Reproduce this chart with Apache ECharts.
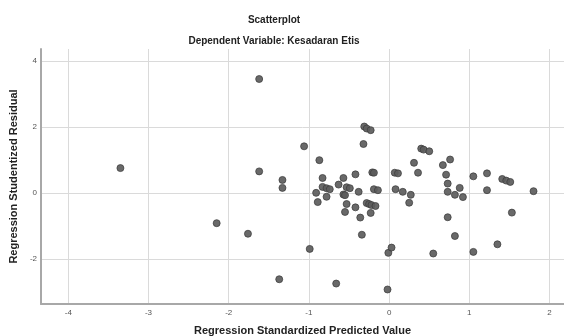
<!DOCTYPE html>
<html>
<head>
<meta charset="utf-8">
<script src="https://cdn.jsdelivr.net/npm/echarts@6/dist/echarts.min.js"></script>
<style>
  html, body { margin: 0; padding: 0; background: #fff; }
  #chart { width: 564px; height: 336px; }
</style>
</head>
<body>
<div id="chart"></div>
<script>
// Regression Standardized Predicted Value (x) / Studentized Residual (y)
const predicted = [
  -3.35, -1.62, -1.06, -0.87, -0.31, -0.28, -0.23, -0.32, -1.62, -1.33,
  -1.33, -0.83, -0.57, -0.42, -0.21, -0.19, 0.07, 0.11, -0.83, -0.78,
  -0.74, -0.63, -0.53, -0.49, -0.19, -0.14, 0.08, -0.91, -0.78, -0.57,
  -0.55, -0.38, 0.40, 0.43, 0.50, 0.31, 0.76, 0.67, 0.36, 0.71,
  1.05, 1.22, 1.41, 1.46, 1.51, 0.73, 0.17, 0.27, 0.88, 0.73,
  0.82, 0.92, 1.22, 1.80, -2.15, -1.76, -0.99, -1.37, -0.66, -0.02,
  -0.01, 0.03, -0.34, -0.89, -0.53, -0.55, -0.42, -0.36, -0.28, -0.25,
  -0.22, -0.17, -0.23, 0.25, 0.73, 1.53, 0.82, 1.35, 0.55, 1.05
];
const residual = [
  0.75, 3.45, 1.41, 0.99, 2.01, 1.95, 1.90, 1.48, 0.65, 0.39,
  0.15, 0.45, 0.45, 0.56, 0.62, 0.61, 0.61, 0.59, 0.18, 0.14,
  0.11, 0.25, 0.17, 0.14, 0.11, 0.08, 0.11, 0.00, -0.12, -0.05,
  -0.07, 0.03, 1.34, 1.31, 1.26, 0.91, 1.01, 0.84, 0.61, 0.55,
  0.50, 0.59, 0.42, 0.37, 0.33, 0.28, 0.03, -0.06, 0.15, 0.03,
  -0.06, -0.13, 0.08, 0.05, -0.92, -1.24, -1.70, -2.62, -2.75, -2.93,
  -1.82, -1.66, -1.27, -0.28, -0.34, -0.58, -0.44, -0.75, -0.31, -0.34,
  -0.37, -0.40, -0.61, -0.30, -0.74, -0.60, -1.31, -1.56, -1.84, -1.79
];
const xTicks = [-4, -3, -2, -1, 0, 1, 2];
const yTicks = [-2, 0, 2, 4];

const points = predicted.map((x, i) => [x, residual[i]]);

const chart = echarts.init(document.getElementById('chart'), null, { renderer: 'canvas' });

const titleFont = { fontFamily: 'Liberation Sans, Arial, sans-serif', fontWeight: 'bold', color: '#222' };

chart.setOption({
  animation: false,
  backgroundColor: '#fff',
  title: [
    { text: 'Scatterplot', left: 269, top: 10, textAlign: 'center',
      textStyle: { ...titleFont, fontSize: 10 } },
    { text: 'Dependent Variable: Kesadaran Etis', left: 269, top: 31, textAlign: 'center',
      textStyle: { ...titleFont, fontSize: 10 } }
  ],
  grid: { left: 41, right: 0, top: 49, bottom: 32, containLabel: false, outerBoundsMode: 'none' },
  xAxis: {
    type: 'value',
    min: -4.34,
    max: 2.18,
    name: 'Regression Standardized Predicted Value',
    nameLocation: 'middle',
    nameGap: 21,
    nameTextStyle: { ...titleFont, fontSize: 11 },
    axisLine: { show: true, onZero: false, lineStyle: { color: '#a8a8a8', width: 2 } },
    axisTick: { show: false, customValues: xTicks },
    axisLabel: { customValues: xTicks, color: '#555', fontSize: 8, margin: 5,
      fontFamily: 'Liberation Sans, Arial, sans-serif' },
    splitLine: { show: true, lineStyle: { color: '#dadada', width: 1 } }
  },
  yAxis: {
    type: 'value',
    min: -3.37,
    max: 4.36,
    name: 'Regression Studentized Residual',
    nameLocation: 'middle',
    nameGap: 21,
    nameTextStyle: { ...titleFont, fontSize: 11 },
    axisLine: { show: true, onZero: false, lineStyle: { color: '#a8a8a8', width: 2 } },
    axisTick: { show: false, customValues: yTicks },
    axisLabel: { customValues: yTicks, color: '#555', fontSize: 8, margin: 4,
      fontFamily: 'Liberation Sans, Arial, sans-serif' },
    splitLine: { show: true, lineStyle: { color: '#dadada', width: 1 } }
  },
  series: [{
    type: 'scatter',
    data: points,
    symbolSize: 7,
    itemStyle: { color: '#5c5c5c', borderColor: '#3a3a3a', borderWidth: 0.8, opacity: 0.92 }
  }]
});
</script>
</body>
</html>
